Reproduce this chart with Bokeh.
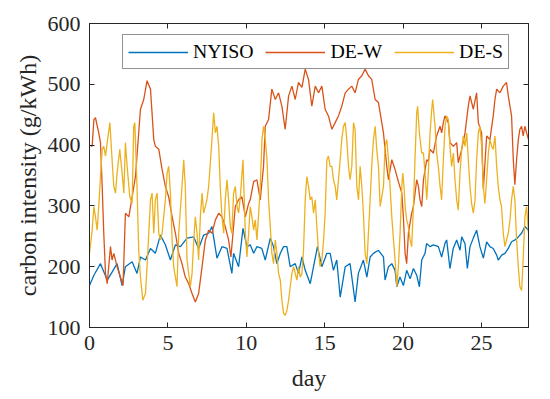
from bokeh.plotting import figure
from bokeh.models import LinearAxis, FixedTicker, Range1d
from bokeh.embed import file_html
from bokeh.resources import INLINE

# ---- data: (day, carbon intensity g/kWh) ----
NYISO = [(0.0,169),(0.28,186),(0.70,205),(1.13,178),(1.44,191),(1.76,205),(2.08,169),(2.29,200),
         (2.72,208),(3.03,189),(3.25,216),(3.57,211),(3.89,230),(4.2,222),(4.52,252),(4.84,236),
         (5.16,211),(5.48,236),(5.8,233),(6.22,247),(6.65,249),(6.96,230),(7.28,252),(7.6,255),
         (7.81,266),(8.13,214),(8.45,233),(8.77,230),(9.08,189),(9.19,222),(9.51,200),(9.79,263),
         (10.04,233),(10.25,236),(10.47,222),(10.68,233),(10.99,230),(11.21,211),(11.53,247),
         (11.74,233),(11.95,205),(12.17,222),(12.38,233),(12.59,233),(12.8,200),(13.12,205),
         (13.33,189),(13.55,216),(13.76,194),(14.08,172),(14.29,200),(14.54,233),(14.82,200),
         (15.14,222),(15.35,222),(15.56,194),(15.77,211),(15.99,150),(16.31,200),(16.62,205),
         (16.94,142),(17.15,189),(17.47,211),(17.69,183),(17.9,216),(18.11,222),(18.43,227),
         (18.75,216),(18.85,178),(19.07,200),(19.28,205),(19.49,194),(19.6,167),(19.8,183),
         (20.02,169),(20.23,194),(20.45,180),(20.66,197),(20.87,186),(21.04,167),(21.19,211),
         (21.4,222),(21.5,238),(21.72,233),(21.93,236),(22.25,233),(22.46,216),(22.67,238),
         (22.78,244),(22.99,197),(23.2,230),(23.42,244),(23.63,227),(23.74,249),(23.95,238),
         (24.1,197),(24.27,233),(24.48,247),(24.69,260),(24.9,233),(25.12,214),(25.33,241),
         (25.54,233),(25.75,230),(25.97,219),(26.07,211),(26.29,219),(26.5,222),(26.71,230),
         (26.92,241),(27.14,244),(27.35,249),(27.56,255),(27.77,266),(28.0,260)]

DE_W = [(0.0,400),(0.17,398),(0.28,442),(0.38,445),(0.59,420),(0.70,404),(0.81,332),(0.91,255),
        (1.02,189),(1.13,172),(1.34,233),(1.44,211),(1.55,222),(1.76,200),(1.97,183),(2.14,169),
        (2.29,288),(2.51,282),(2.72,315),(2.93,348),(3.25,459),(3.46,475),(3.67,506),(3.89,492),
        (4.1,409),(4.2,398),(4.42,393),(4.63,360),(4.84,332),(5.05,315),(5.27,282),(5.48,255),
        (5.69,222),(5.9,205),(6.11,183),(6.33,172),(6.54,156),(6.75,142),(6.96,156),(7.18,200),
        (7.39,244),(7.6,260),(7.81,255),(8.03,277),(8.24,288),(8.45,282),(8.66,266),(8.87,244),
        (9.02,216),(9.3,299),(9.51,310),(9.72,315),(9.94,282),(10.15,304),(10.25,310),(10.47,340),
        (10.68,343),(10.89,310),(11.1,365),(11.21,431),(11.42,442),(11.63,492),(11.85,475),
        (12.06,486),(12.27,464),(12.48,426),(12.7,481),(12.91,497),(13.12,475),(13.33,503),
        (13.55,495),(13.76,525),(13.97,508),(14.18,464),(14.4,497),(14.61,486),(14.82,497),
        (15.03,459),(15.24,448),(15.46,426),(15.67,437),(15.88,448),(16.09,464),(16.31,486),
        (16.52,492),(16.73,497),(16.94,486),(17.15,508),(17.37,514),(17.58,525),(17.79,514),
        (18.0,508),(18.22,475),(18.43,470),(18.75,420),(18.96,365),(19.07,343),(19.28,376),
        (19.49,360),(19.70,340),(19.92,321),(20.02,282),(20.13,222),(20.23,205),(20.34,255),
        (20.55,288),(20.66,299),(20.87,343),(20.98,332),(21.08,310),(21.19,299),(21.3,343),
        (21.51,376),(21.61,373),(21.72,393),(21.93,387),(22.14,415),(22.36,431),(22.46,420),
        (22.57,437),(22.67,448),(22.89,437),(22.99,404),(23.21,398),(23.42,404),(23.52,371),
        (23.74,393),(23.95,420),(24.16,464),(24.27,481),(24.48,459),(24.69,486),(24.8,437),
        (25.01,420),(25.12,327),(25.33,415),(25.54,409),(25.75,448),(25.86,475),(25.97,492),
        (26.18,486),(26.39,497),(26.6,503),(26.71,481),(26.92,448),(27.03,376),(27.13,335),
        (27.24,376),(27.35,409),(27.45,426),(27.56,431),(27.66,415),(27.77,431),(27.88,420),
        (28.0,409)]

DE_S = [(0.0,222),(0.17,260),(0.28,299),(0.38,282),(0.49,260),(0.59,299),(0.7,348),(0.81,393),
        (0.91,398),(1.02,382),(1.13,404),(1.3,437),(1.44,376),(1.55,332),(1.66,321),(1.76,354),
        (1.93,393),(2.08,354),(2.19,321),(2.29,404),(2.4,365),(2.57,315),(2.72,304),(2.82,431),
        (2.89,437),(3.03,332),(3.14,227),(3.25,183),(3.4,145),(3.57,156),(3.67,200),(3.78,255),
        (3.89,310),(3.99,321),(4.1,255),(4.2,310),(4.31,321),(4.42,255),(4.52,244),(4.63,255),
        (4.84,310),(4.95,354),(5.05,365),(5.16,321),(5.27,244),(5.37,200),(5.58,167),(5.69,255),
        (5.9,332),(6.01,376),(6.11,332),(6.22,211),(6.43,167),(6.54,189),(6.65,244),(6.75,282),
        (6.86,255),(6.96,211),(7.07,282),(7.18,321),(7.28,288),(7.49,310),(7.6,332),(7.81,409),
        (7.92,453),(8.03,420),(8.13,431),(8.24,398),(8.34,332),(8.45,282),(8.56,255),(8.66,310),
        (8.77,343),(8.87,310),(8.98,266),(9.08,255),(9.19,321),(9.3,332),(9.41,299),(9.51,288),
        (9.62,315),(9.79,376),(9.94,255),(10.04,216),(10.15,255),(10.25,299),(10.36,282),
        (10.47,260),(10.57,277),(10.68,244),(10.79,288),(10.89,332),(11.0,409),(11.1,431),
        (11.21,409),(11.32,376),(11.42,310),(11.53,266),(11.63,222),(11.74,205),(11.85,244),
        (11.95,222),(12.06,189),(12.17,178),(12.27,145),(12.38,123),(12.48,120),(12.59,128),
        (12.7,145),(12.8,167),(12.91,189),(13.02,200),(13.12,189),(13.23,178),(13.33,200),
        (13.44,183),(13.55,189),(13.65,227),(13.76,310),(13.86,348),(13.97,332),(14.08,310),
        (14.18,315),(14.29,288),(14.4,310),(14.5,266),(14.61,222),(14.71,200),(14.82,211),
        (14.93,244),(15.03,288),(15.14,376),(15.24,382),(15.35,365),(15.46,365),(15.56,343),
        (15.67,332),(15.77,310),(15.88,343),(15.99,376),(16.09,409),(16.2,431),(16.31,437),
        (16.41,409),(16.52,365),(16.62,343),(16.73,365),(16.84,437),(16.94,426),(17.05,332),
        (17.16,310),(17.26,365),(17.37,332),(17.47,288),(17.58,222),(17.69,205),(17.79,255),
        (17.9,310),(18.0,365),(18.11,409),(18.22,431),(18.32,393),(18.43,365),(18.54,299),
        (18.75,332),(18.85,398),(18.96,409),(19.07,376),(19.17,332),(19.28,282),(19.39,244),
        (19.49,211),(19.6,167),(19.7,200),(19.81,255),(19.92,332),(19.98,354),(20.06,332),
        (20.13,299),(20.23,277),(20.34,266),(20.45,244),(20.55,233),(20.66,299),(20.76,376),
        (20.87,453),(20.93,464),(21.04,420),(21.19,387),(21.3,387),(21.4,354),(21.51,310),
        (21.61,354),(21.72,420),(21.83,459),(21.89,475),(22.04,431),(22.14,387),(22.25,365),
        (22.36,332),(22.46,310),(22.57,376),(22.68,431),(22.78,448),(22.89,442),(22.99,398),
        (23.1,365),(23.21,387),(23.31,343),(23.42,310),(23.52,293),(23.63,354),(23.74,393),
        (23.84,415),(23.95,398),(24.06,420),(24.16,376),(24.27,332),(24.37,304),(24.48,288),
        (24.59,310),(24.69,376),(24.8,420),(24.9,431),(25.01,398),(25.12,332),(25.22,304),
        (25.33,343),(25.44,387),(25.54,409),(25.65,398),(25.75,393),(25.86,415),(25.97,365),
        (26.07,332),(26.18,310),(26.28,299),(26.39,255),(26.5,233),(26.6,244),(26.71,255),
        (26.82,277),(26.92,310),(27.03,332),(27.13,310),(27.24,244),(27.35,200),(27.45,167),
        (27.56,161),(27.66,211),(27.77,282),(27.88,299),(28.0,255)]

SERIES = ["NYISO", "DE-W", "DE-S"]
COLORS = ["#0072BD", "#D95319", "#EDB120"]
XTICKS = [0, 5, 10, 15, 20, 25]
YTICKS = [100, 200, 300, 400, 500, 600]

FONT = "Liberation Serif"
INK = "#262626"

p = figure(width=550, height=399, output_backend="svg", toolbar_location=None,
           x_range=Range1d(0, 28), y_range=Range1d(100, 600),
           min_border_left=89, min_border_right=22, min_border_top=23, min_border_bottom=72,
           x_axis_label="day", y_axis_label="carbon intensity (g/kWh)")
p.xgrid.visible = False
p.ygrid.visible = False
p.outline_line_color = INK
p.outline_line_width = 1

for name, color, data in zip(SERIES, COLORS, [NYISO, DE_W, DE_S]):
    xs = [d for d, _ in data]
    ys = [v for _, v in data]
    p.line(xs, ys, line_color=color, line_width=1.3, legend_label=name)

p.xaxis.ticker = FixedTicker(ticks=XTICKS)
p.yaxis.ticker = FixedTicker(ticks=YTICKS)
for ax in p.axis:
    ax.major_tick_in = 5
    ax.major_tick_out = 0
    ax.minor_tick_in = 0
    ax.minor_tick_out = 0
    ax.axis_line_color = INK
    ax.major_tick_line_color = INK
    ax.major_label_text_font = FONT
    ax.major_label_text_font_size = "22px"
    ax.major_label_text_color = INK
    ax.axis_label_text_font = FONT
    ax.axis_label_text_font_size = "24px"
    ax.axis_label_text_font_style = "normal"
    ax.axis_label_text_color = INK
p.xaxis.major_label_standoff = 8
p.yaxis.major_label_standoff = 9
p.xaxis.axis_label_standoff = 12
p.yaxis.axis_label_standoff = 4

top = LinearAxis(ticker=FixedTicker(ticks=XTICKS), major_label_text_color=None,
                 major_tick_in=5, major_tick_out=0, minor_tick_in=0, minor_tick_out=0,
                 axis_line_color=INK, major_tick_line_color=INK, major_label_standoff=0)
p.add_layout(top, "above")
right = LinearAxis(ticker=FixedTicker(ticks=YTICKS), major_label_text_color=None,
                   major_tick_in=5, major_tick_out=0, minor_tick_in=0, minor_tick_out=0,
                   axis_line_color=INK, major_tick_line_color=INK, major_label_standoff=0)
p.add_layout(right, "right")

lg = p.legend[0]
lg.location = (33, 258)
lg.orientation = "horizontal"
lg.label_text_font = FONT
lg.label_text_font_size = "19.8px"
lg.label_text_color = "#000000"
lg.glyph_width = 60
lg.glyph_height = 20
lg.label_height = 21
lg.label_standoff = 5
lg.spacing = 12
lg.padding = 5
lg.margin = 0
lg.border_line_color = INK
lg.border_line_width = 1
lg.background_fill_color = "white"
lg.background_fill_alpha = 1

open("out.html", "w").write(file_html(p, INLINE))
